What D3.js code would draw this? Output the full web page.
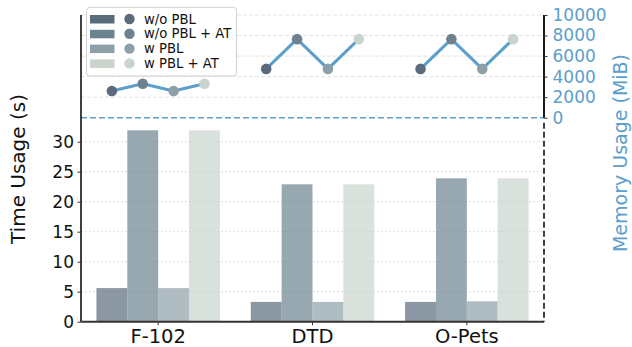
<!DOCTYPE html>
<html>
<head>
<meta charset="utf-8">
<script src="https://cdn.jsdelivr.net/npm/d3@7"></script>
<style>
  html, body { margin: 0; padding: 0; background: #fff; }
  svg { display: block; font-family: "DejaVu Sans", sans-serif; }
</style>
</head>
<body>
<svg id="chart" width="632" height="347"></svg>
<script>
// Datasets and configurations
const categories = ["F-102", "DTD", "O-Pets"];
const seriesNames = ["w/o PBL", "w/o PBL + AT", "w PBL", "w PBL + AT"];
const seriesColors = ["#5a6b7b", "#6c838f", "#8da0a8", "#c9d4cd"];

// Time usage in seconds, one array per series (order follows categories)
const timeWoPBL    = [5.6, 3.3, 3.3];
const timeWoPBLAT  = [31.9, 22.9, 23.9];
const timeWPBL     = [5.6, 3.3, 3.4];
const timeWPBLAT   = [31.9, 22.9, 23.9];

// Memory usage in MiB, one array per series
const memWoPBL     = [2600, 4750, 4750];
const memWoPBLAT   = [3300, 7650, 7650];
const memWPBL      = [2600, 4750, 4750];
const memWPBLAT    = [3300, 7650, 7650];

const timeTicks = [0, 5, 10, 15, 20, 25, 30];
const memTicks = [0, 2000, 4000, 6000, 8000, 10000];

const timeSeries = [timeWoPBL, timeWoPBLAT, timeWPBL, timeWPBLAT];
const memSeries = [memWoPBL, memWoPBLAT, memWPBL, memWPBLAT];

const memColor = "#5c9ecc";

const svg = d3.select("#chart");

const left = 81, right = 544;
const yBottom = 321.7, ySplit = 117.7, yTop = 15;

// Scales
const x0 = d3.scaleBand().domain(categories).range([left, right]).paddingInner(0).paddingOuter(0);
const groupW = x0.bandwidth() * 0.8;
const x1 = d3.scaleBand().domain(d3.range(4)).range([0, groupW]);
const yTime = d3.scaleLinear().domain([0, 34]).range([yBottom, ySplit]);
const yMem = d3.scaleLinear().domain([0, 10000]).range([ySplit, yTop]);

const cx = (cat, i) => x0(cat) + (x0.bandwidth() - groupW) / 2 + x1(i) + x1.bandwidth() / 2;

// Grid lines: dotted for time, dashed for memory
svg.append("g").selectAll("line").data(timeTicks.filter(d => d > 0)).join("line")
  .attr("x1", left).attr("x2", right)
  .attr("y1", d => yTime(d)).attr("y2", d => yTime(d))
  .attr("stroke", "#d4d4d4").attr("stroke-width", 0.8).attr("stroke-dasharray", "2,2");

svg.append("g").selectAll("line").data(memTicks.filter(d => d > 0)).join("line")
  .attr("x1", left).attr("x2", right)
  .attr("y1", d => yMem(d)).attr("y2", d => yMem(d))
  .attr("stroke", "#dcdcdc").attr("stroke-width", 0.8).attr("stroke-dasharray", "4,2");

// Bars
const barData = [];
categories.forEach((c, ci) => timeSeries.forEach((s, si) => barData.push({ c, si, v: s[ci] })));
svg.append("g").selectAll("rect").data(barData).join("rect")
  .attr("x", d => x0(d.c) + (x0.bandwidth() - groupW) / 2 + x1(d.si))
  .attr("width", x1.bandwidth())
  .attr("y", d => yTime(d.v))
  .attr("height", d => yTime(0) - yTime(d.v))
  .attr("fill", d => seriesColors[d.si])
  .attr("fill-opacity", 0.7);

// Memory lines per category, with markers
const line = d3.line().x(d => d.x).y(d => d.y);
categories.forEach((c, ci) => {
  const pts = memSeries.map((s, si) => ({ x: cx(c, si), y: yMem(s[ci]), si }));
  svg.append("path").attr("d", line(pts)).attr("fill", "none")
    .attr("stroke", memColor).attr("stroke-width", 3).attr("stroke-linejoin", "round");
  svg.append("g").selectAll("circle").data(pts).join("circle")
    .attr("cx", d => d.x).attr("cy", d => d.y).attr("r", 5.3)
    .attr("fill", d => seriesColors[d.si]);
});

// Divider between the two panels
svg.append("line").attr("x1", left).attr("x2", right).attr("y1", ySplit).attr("y2", ySplit)
  .attr("stroke", memColor).attr("stroke-width", 1.5).attr("stroke-dasharray", "6,3");

// Spines
svg.append("line").attr("x1", left).attr("x2", left).attr("y1", yTop).attr("y2", yBottom)
  .attr("stroke", "#000").attr("stroke-width", 1.5);
svg.append("line").attr("x1", right).attr("x2", right).attr("y1", yTop).attr("y2", ySplit)
  .attr("stroke", "#000").attr("stroke-width", 1.8);
svg.append("line").attr("x1", right).attr("x2", right).attr("y1", ySplit + 5).attr("y2", yBottom)
  .attr("stroke", "#000").attr("stroke-width", 1.5).attr("stroke-dasharray", "6,3");

// Left axis (time)
const axL = svg.append("g").attr("transform", `translate(${left},0)`)
  .call(d3.axisLeft(yTime).tickValues(timeTicks).tickSize(3.5).tickPadding(3.5));
axL.select(".domain").remove();
axL.selectAll("text").attr("font-size", 17).attr("fill", "#111").attr("font-family", "DejaVu Sans");
axL.selectAll("line").attr("stroke", "#333");

// Right axis (memory)
const axR = svg.append("g").attr("transform", `translate(${right},0)`)
  .call(d3.axisRight(yMem).tickValues(memTicks).tickSize(3.5).tickPadding(5).tickFormat(d3.format("d")));
axR.select(".domain").remove();
axR.selectAll("text").attr("font-size", 17).attr("fill", memColor).attr("font-family", "DejaVu Sans");
axR.selectAll("line").attr("stroke", "#333");

// Bottom axis
svg.append("line").attr("x1", left).attr("x2", right).attr("y1", yBottom).attr("y2", yBottom)
  .attr("stroke", "#333").attr("stroke-width", 2);
const axB = svg.append("g").attr("transform", `translate(0,${yBottom})`)
  .call(d3.axisBottom(x0).tickSize(3.5).tickPadding(4));
axB.select(".domain").remove();
axB.selectAll("text").attr("font-size", 19.5).attr("fill", "#111").attr("font-family", "DejaVu Sans");
axB.selectAll("line").attr("stroke", "#333");

// Axis titles
svg.append("text").attr("transform", "translate(25,169) rotate(-90)")
  .attr("text-anchor", "middle").attr("font-size", 20).attr("fill", "#111")
  .text("Time Usage (s)");
svg.append("text").attr("transform", "translate(627,153) rotate(-90)")
  .attr("text-anchor", "middle").attr("font-size", 19).attr("fill", memColor)
  .text("Memory Usage (MiB)");

// Legend
const lg = svg.append("g");
lg.append("rect").attr("x", 86.5).attr("y", 7.3).attr("width", 150).attr("height", 68.7)
  .attr("rx", 3).attr("fill", "#fff").attr("fill-opacity", 0.85)
  .attr("stroke", "#d0d0d0").attr("stroke-width", 1);
seriesNames.forEach((n, i) => {
  const yy = 19 + i * 14.8;
  lg.append("rect").attr("x", 90).attr("y", yy - 4).attr("width", 24.5).attr("height", 8.5)
    .attr("fill", seriesColors[i]);
  lg.append("circle").attr("cx", 129.5).attr("cy", yy).attr("r", 5.2).attr("fill", seriesColors[i]);
  lg.append("text").attr("x", 144).attr("y", yy + 4.5).attr("font-size", 13.2).attr("fill", "#111").text(n);
});
</script>
</body>
</html>
